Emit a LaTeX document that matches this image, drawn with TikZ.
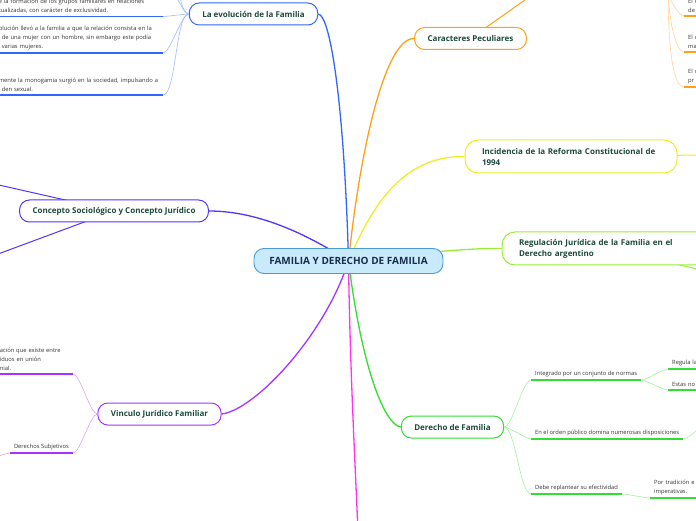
\documentclass[tikz,border=0pt]{standalone}
\usepackage{fontspec}
\setmainfont{Open Sans}
\usetikzlibrary{backgrounds}

\definecolor{cblue}{HTML}{3366FF}
\definecolor{corange}{HTML}{FF9F1A}
\definecolor{cyellow}{HTML}{EEEE22}
\definecolor{clime}{HTML}{99EE33}
\definecolor{cgreen}{HTML}{33DD33}
\definecolor{cmagenta}{HTML}{FF33EE}
\definecolor{cpurple}{HTML}{A633FF}
\definecolor{cindigo}{HTML}{5533FF}
\definecolor{topictext}{HTML}{1D4A3A}
\definecolor{roottext}{HTML}{1A2D4D}
\definecolor{rootfill}{HTML}{C8EAFA}
\definecolor{rootline}{HTML}{4A9AD8}
\definecolor{subtext}{HTML}{333333}

\begin{document}
\begin{tikzpicture}[x=1pt, y=1pt,
  rootnode/.style={draw=rootline, line width=0.9pt, rounded corners=10pt, fill=rootfill,
                   text=roottext, font=\fontsize{10}{12}\selectfont\bfseries,
                   minimum width=189pt, minimum height=25pt},
  topic/.style={draw=#1, line width=1pt, rounded corners=10pt, fill=white,
                text=topictext, font=\fontsize{8}{11}\selectfont\bfseries,
                minimum height=22pt, inner xsep=13pt},
  widetopic/.style={topic=#1, text width=178pt, align=left, inner xsep=17pt,
                    minimum height=33pt, rounded corners=13pt},
  subtopic/.style={text=subtext, font=\fontsize{5.8}{9}\selectfont, align=left,
                   inner xsep=4pt, inner ysep=3pt},
  branch/.style={draw=#1, line width=1.3pt},
  twig/.style={draw=#1!45, line width=0.6pt},
  uline/.style={draw=#1, line width=1.4pt},
]
  \useasboundingbox (0,0) rectangle (696,520);
  \clip (0,0) rectangle (696,520);

  % Root
  \node[rootnode] (fam) at (348.5,259) {FAMILIA Y DERECHO DE FAMILIA};

  % Topics
  \node[topic=cblue]       (evol)  at (253.5,506)   {La evolución de la Familia};
  \node[topic=corange]     (carac) at (470.5,481.5) {Caracteres Peculiares};
  \node[widetopic=cyellow] (incid) at (571,363.5)   {Incidencia de la Reforma Constitucional de\\1994};
  \node[widetopic=clime]   (regul) at (608,271.5)   {Regulación Jurídica de la Familia en el\\Derecho argentino};
  \node[topic=cgreen]      (derf)  at (452.5,93)    {Derecho de Familia};
  \node[topic=cpurple]     (vinc)  at (159.5,106)   {Vinculo Jurídico Familiar};
  \node[topic=cindigo]     (conc)  at (114,309)     {Concepto Sociológico y Concepto Jurídico};

  % Subtopics
  \node[subtopic, text width=160pt, anchor=south east] (e1) at (163,503.5)
    {e la formación de los grupos familiares en relaciones\\tualizadas, con carácter de exclusividad.};
  \node[subtopic, text width=160pt, anchor=south east] (e2) at (163,467)
    {olución llevó a la familia a que la relación consista en la\\\hspace*{3pt}de una mujer con un hombre, sin embargo este podía\\\hspace*{3pt}varias mujeres.};
  \node[subtopic, text width=160pt, anchor=south east] (e3) at (163,425)
    {\mbox{mente la monogamia surgió en la sociedad, impulsando a}\\\hspace*{3pt}den sexual.};
  \node[subtopic, text width=20pt, anchor=south west] (o1) at (684,504) {El c\\de};
  \node[subtopic, text width=20pt, anchor=south west] (o2) at (684,468) {El c\\ma};
  \node[subtopic, text width=20pt, anchor=south west] (o3) at (684,433) {El c\\pr};
  \node[subtopic, text width=69pt, anchor=south east] (v1) at (73,146)
    {ación que existe entre\\iduos en unión\\nial.};
  \node[subtopic, anchor=south east] (v2) at (73,67) {Derechos Subjetivos};
  \node[subtopic, anchor=south west] (integ)   at (531,140) {Integrado por un conjunto de normas};
  \node[subtopic, anchor=south west] (orden)   at (531,81)  {En el orden público domina numerosas disposiciones};
  \node[subtopic, anchor=south west] (replant) at (531,26)  {Debe replantear su efectividad};
  \node[subtopic, text width=40pt, anchor=south west] (regula)  at (668,151) {Regula la};
  \node[subtopic, text width=40pt, anchor=south west] (estas)   at (668,130) {Estas no};
  \node[subtopic, text width=50pt, anchor=south west] (portrad) at (650,22)  {Por tradición e\\imperativas.};

  % Loose ends
  \coordinate (famdown)    at (358,-12);
  \coordinate (evolup1)    at (163,542);
  \coordinate (evolup2)    at (163,580);
  \coordinate (concup)     at (-10,337);
  \coordinate (concdown)   at (-10,263);
  \coordinate (caracup)    at (539,530);
  \coordinate (caracpar)   at (668,532);
  \coordinate (incidright) at (706,365);
  \coordinate (regulright) at (710,248);
  \coordinate (ordenright) at (712,100);
  \coordinate (derleft)    at (-20,58);

  % Branches
  \begin{scope}[on background layer]
    \clip (0,0) rectangle (696,520);
    \draw[branch=cblue]    (fam.center) .. controls (344,420) and (330,505) .. (evol.east);
    \draw[branch=corange]  (fam.center) .. controls (360,370) and (385,482) .. (carac.west);
    \draw[branch=cyellow]  (fam.center) .. controls (378,330) and (412,364) .. (incid.west);
    \draw[branch=clime]    (fam.center) .. controls (430,268) and (470,272) .. (regul.west);
    \draw[branch=cgreen]   (fam.center) .. controls (362,150) and (385,95) .. (derf.west);
    \draw[branch=cmagenta] (fam.center) .. controls (350,150) and (355,60) .. (famdown);
    \draw[branch=cpurple]  (fam.center) .. controls (325,185) and (255,110) .. (vinc.east);
    \draw[branch=cindigo]  (fam.center) .. controls (310,284) and (260,309) .. (conc.east);
    \foreach \a/\b/\c in {conc/concup/cindigo, conc/concdown/cindigo, carac/caracup/corange,
                          incid/incidright/cyellow, regul/regulright/clime}
      \draw[branch=\c, line width=1pt] (\a.center) -- (\b);
  \end{scope}

  % Twigs
  \foreach \s in {e1.south east, e2.south east, e3.south east, evolup1, evolup2}
    \draw[twig=cblue] (evol.west) to[out=180, in=0, looseness=0.4] (\s);
  \foreach \s in {v1, v2}
    \draw[twig=cpurple] (vinc.west) to[out=180, in=0, looseness=0.4] (\s.south east);
  \draw[twig=cpurple] (v2.south west) to[out=180, in=0, looseness=0.4] (derleft);
  \foreach \s in {integ, orden, replant}
    \draw[twig=cgreen] (derf.east) to[out=0, in=180, looseness=0.4] (\s.south west);
  \foreach \s in {regula, estas}
    \draw[twig=cgreen] (integ.south east) to[out=0, in=180, looseness=0.5] (\s.south west);
  \draw[twig=cgreen] (replant.south east) to[out=0, in=180, looseness=0.5] (portrad.south west);
  \draw[twig=cgreen] (orden.south east) to[out=0, in=180, looseness=0.5] (ordenright);
  \foreach \s in {o1, o2, o3}
    \draw[twig=corange] (caracpar) to[out=-90, in=180, in looseness=0.35] (\s.south west);

  % Underlines
  \foreach \s/\c in {e1/cblue, e2/cblue, e3/cblue, o1/corange, o2/corange, o3/corange,
                     v1/cpurple, v2/cpurple, integ/cgreen, orden/cgreen, replant/cgreen,
                     regula/cgreen, estas/cgreen, portrad/cgreen}
    \draw[uline=\c] (\s.south west) -- (\s.south east);
\end{tikzpicture}
\end{document}
